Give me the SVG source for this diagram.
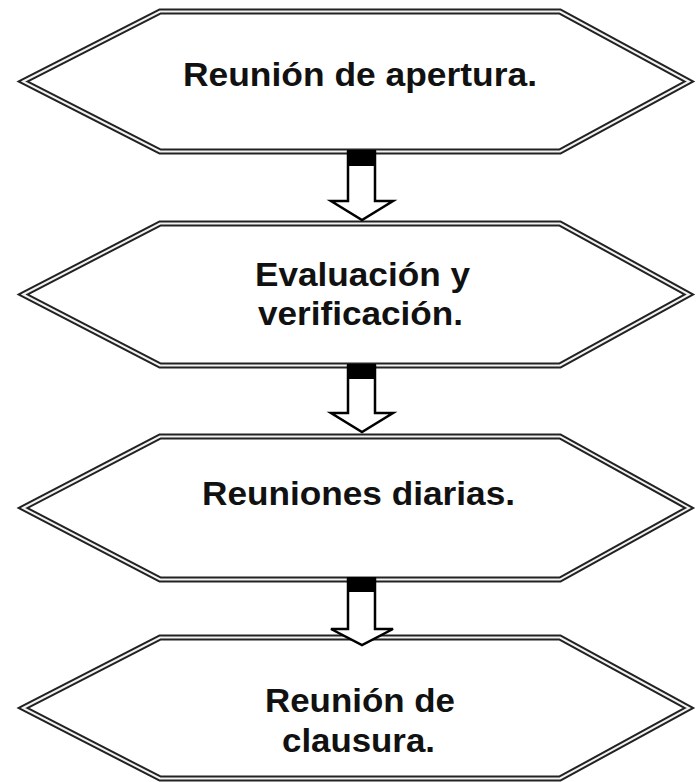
<svg xmlns="http://www.w3.org/2000/svg" width="696" height="782" viewBox="0 0 696 782">
<style>
.hx-o{fill:#fff;stroke:#222;stroke-width:6;stroke-linejoin:miter}
.hx-i{fill:none;stroke:#f2f2f2;stroke-width:2;stroke-linejoin:miter}
.t{font-family:"Liberation Sans",Arial,sans-serif;font-weight:bold;font-size:33px;fill:#111;text-anchor:middle}
.ar{fill:#fff;stroke:#000;stroke-width:2.5;stroke-linejoin:miter}
.blk{fill:#000}
</style>
<rect width="696" height="782" fill="#fff"/>
<g id="node1">
<polygon class="hx-o" points="23,81.5 160,11.5 560,11.5 689,81.5 560,151.5 160,151.5"/>
<polygon class="hx-i" points="23,81.5 160,11.5 560,11.5 689,81.5 560,151.5 160,151.5"/>
<text class="t" x="360" y="86" textLength="354" lengthAdjust="spacingAndGlyphs">Reunión de apertura.</text>
</g>
<g id="node2">
<polygon class="hx-o" points="23,294.5 160,223.5 560,223.5 689,294.5 560,365.5 160,365.5"/>
<polygon class="hx-i" points="23,294.5 160,223.5 560,223.5 689,294.5 560,365.5 160,365.5"/>
<text class="t" x="362.5" y="286" textLength="215" lengthAdjust="spacingAndGlyphs">Evaluación y</text>
<text class="t" x="360.5" y="325" textLength="205" lengthAdjust="spacingAndGlyphs">verificación.</text>
</g>
<g id="node3">
<polygon class="hx-o" points="23,508 160,436.5 560,436.5 689,508 560,579.5 160,579.5"/>
<polygon class="hx-i" points="23,508 160,436.5 560,436.5 689,508 560,579.5 160,579.5"/>
<text class="t" x="358.5" y="505" textLength="313" lengthAdjust="spacingAndGlyphs">Reuniones diarias.</text>
</g>
<g id="node4">
<polygon class="hx-o" points="23,708 160,637.5 560,637.5 689,708 560,778.5 160,778.5"/>
<polygon class="hx-i" points="23,708 160,637.5 560,637.5 689,708 560,778.5 160,778.5"/>
<text class="t" x="360" y="711.5" textLength="190" lengthAdjust="spacingAndGlyphs">Reunión de</text>
<text class="t" x="358.5" y="751.5" textLength="153" lengthAdjust="spacingAndGlyphs">clausura.</text>
</g>
<g id="connectors">
<g id="arrow1">
<polygon class="ar" points="348,152 375,152 375,201 393,201 362,220 331,201 348,201"/>
<rect class="blk" x="347" y="150" width="29" height="16"/>
</g>
<g id="arrow2">
<polygon class="ar" points="348,366 375,366 375,413 393,413 362,432 331,413 348,413"/>
<rect class="blk" x="347" y="364" width="29" height="15"/>
</g>
<g id="arrow3">
<polygon class="ar" points="348,579 375,579 375,629 393,629 362,645 331,629 348,629"/>
<rect class="blk" x="347" y="577" width="29" height="15"/>
</g>
</g>
</svg>
